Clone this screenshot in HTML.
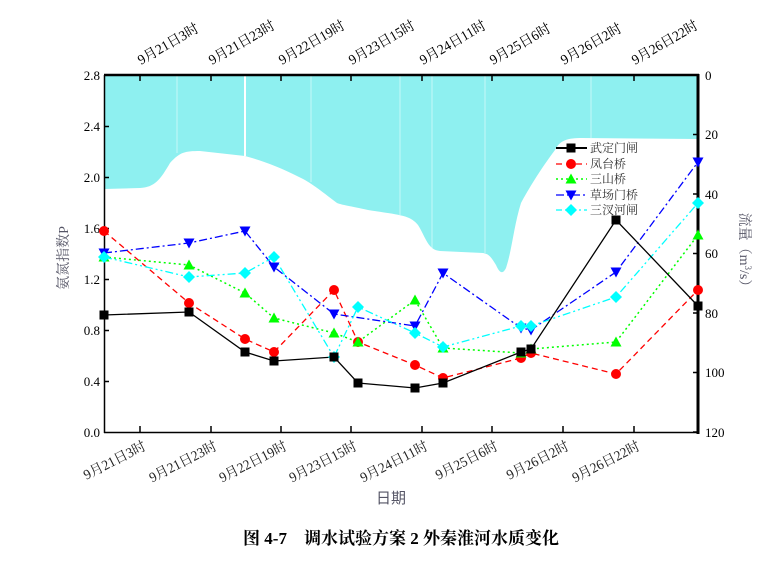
<!DOCTYPE html>
<html><head><meta charset="utf-8"><style>
body{margin:0;background:#fff;width:782px;height:565px;overflow:hidden}
svg{display:block}
text{font-family:"Liberation Serif","Noto Serif CJK SC","Noto Sans CJK SC",serif}
</style></head><body>
<svg width="782" height="565" viewBox="0 0 782 565">
<path d="M104,75 L698,75 L698,139 L582,138 C568,138 560,140 555,150 C540,170 528,190 521,203 C514,225 512,250 506,268 C503,274 500,274 496,265 C490,255 488,254 483,253 L440,251 C428,250 426,238 418,225 C410,215 400,215 368,210 C350,206 342,205 337,203 C320,190 310,182 299,177 C280,167 260,160 245,156 L200,151 C185,151 180,152 170,163 C160,180 155,187 140,188 L104,189 Z" fill="#8ef0f0"/>
<g stroke="#fff" stroke-width="1">
<line x1="245" y1="75" x2="245" y2="156" stroke-width="2"/>
<line x1="177" y1="75" x2="177" y2="153" stroke-opacity="0.5"/>
<line x1="311" y1="75" x2="311" y2="182" stroke-opacity="0.5"/>
<line x1="400" y1="75" x2="400" y2="215" stroke-opacity="0.5"/>
<line x1="432" y1="75" x2="432" y2="251" stroke-opacity="0.5"/>
<line x1="485" y1="75" x2="485" y2="253" stroke-opacity="0.5"/>
<line x1="591" y1="75" x2="591" y2="138" stroke-opacity="0.5"/>
</g>
<g stroke="#000" fill="none">
<line x1="104" y1="75" x2="699" y2="75" stroke-width="2.5"/>
<line x1="104.5" y1="75" x2="104.5" y2="433" stroke-width="1.5"/>
<line x1="104" y1="432.5" x2="699" y2="432.5" stroke-width="1.5"/>
<line x1="698" y1="74" x2="698" y2="434" stroke-width="3"/>
<g stroke-width="1.5">
<path d="M140,75v6M211,75v6M281,75v6M351,75v6M422,75v6M492,75v6M563,75v6M634,75v6"/>
<path d="M140,432v-6M211,432v-6M281,432v-6M351,432v-6M422,432v-6M492,432v-6M563,432v-6M634,432v-6"/>
<path d="M104,126.5h5M104,177.5h5M104,228.5h5M104,279.5h5M104,330.5h5M104,381.5h5"/>
<path d="M698,134.5h-5M698,194h-5M698,253.5h-5M698,313h-5M698,372.5h-5M698,432h-5"/>
</g></g>
<g font-size="13" text-anchor="end" fill="#000">
<text x="100" y="80">2.8</text><text x="100" y="131">2.4</text><text x="100" y="182">2.0</text><text x="100" y="233">1.6</text><text x="100" y="284">1.2</text><text x="100" y="335">0.8</text><text x="100" y="386">0.4</text><text x="100" y="437">0.0</text>
</g>
<g font-size="13" fill="#000">
<text x="705" y="80">0</text><text x="705" y="139">20</text><text x="705" y="199">40</text><text x="705" y="258">60</text><text x="705" y="318">80</text><text x="705" y="377">100</text><text x="705" y="437">120</text>
</g>
<g font-size="14" fill="#000">
<text transform="translate(141,65) rotate(-30)" textLength="68" lengthAdjust="spacingAndGlyphs">9月21日3时</text>
<text transform="translate(212,65) rotate(-30)" textLength="74" lengthAdjust="spacingAndGlyphs">9月21日23时</text>
<text transform="translate(282,65) rotate(-30)" textLength="74" lengthAdjust="spacingAndGlyphs">9月22日19时</text>
<text transform="translate(352,65) rotate(-30)" textLength="74" lengthAdjust="spacingAndGlyphs">9月23日15时</text>
<text transform="translate(423,65) rotate(-30)" textLength="74" lengthAdjust="spacingAndGlyphs">9月24日11时</text>
<text transform="translate(493,65) rotate(-30)" textLength="68" lengthAdjust="spacingAndGlyphs">9月25日6时</text>
<text transform="translate(564,65) rotate(-30)" textLength="68" lengthAdjust="spacingAndGlyphs">9月26日2时</text>
<text transform="translate(635,65) rotate(-30)" textLength="74" lengthAdjust="spacingAndGlyphs">9月26日22时</text>
</g>
<g font-size="14" fill="#222" text-anchor="end">
<text transform="translate(147,449) rotate(-27)" textLength="68" lengthAdjust="spacingAndGlyphs">9月21日3时</text>
<text transform="translate(218,449) rotate(-27)" textLength="74" lengthAdjust="spacingAndGlyphs">9月21日23时</text>
<text transform="translate(288,449) rotate(-27)" textLength="74" lengthAdjust="spacingAndGlyphs">9月22日19时</text>
<text transform="translate(358,449) rotate(-27)" textLength="74" lengthAdjust="spacingAndGlyphs">9月23日15时</text>
<text transform="translate(429,449) rotate(-27)" textLength="74" lengthAdjust="spacingAndGlyphs">9月24日11时</text>
<text transform="translate(499,449) rotate(-27)" textLength="68" lengthAdjust="spacingAndGlyphs">9月25日6时</text>
<text transform="translate(570,449) rotate(-27)" textLength="68" lengthAdjust="spacingAndGlyphs">9月26日2时</text>
<text transform="translate(641,449) rotate(-27)" textLength="74" lengthAdjust="spacingAndGlyphs">9月26日22时</text>
</g>
<text x="391" y="503" font-size="15" fill="#556" text-anchor="middle" style="font-family:'Noto Sans CJK SC',sans-serif">日期</text>
<text transform="translate(68,258) rotate(-90)" font-size="14" fill="#556" text-anchor="middle">氨氮指数P</text>
<text transform="translate(740,253) rotate(90)" font-size="14" fill="#556" text-anchor="middle">流量（m<tspan font-size="9" dy="-5">3</tspan><tspan dy="5">/s）</tspan></text>
<text x="401" y="544" font-size="17" font-weight="bold" text-anchor="middle" fill="#000">图 4-7　调水试验方案 2 外秦淮河水质变化</text>

<defs>
<rect id="sq" x="-4.5" y="-4.5" width="9" height="9" fill="#000"/>
<circle id="ci" r="5" fill="#f00"/>
<path id="tu" d="M0,-5.5L5.5,4.5L-5.5,4.5Z" fill="#0f0"/>
<path id="td" d="M0,5.5L5.5,-4.5L-5.5,-4.5Z" fill="#00f"/>
<path id="di" d="M0,-6L6,0L0,6L-6,0Z" fill="#0ff"/>
</defs>
<polyline fill="none" stroke="#f00" stroke-width="1.3" stroke-dasharray="6,4" points="104,231 189,303 245,339 274,352 334,290 358,342 415,365 443,378 521,358 531,353 616,374 698,290"/>
<polyline fill="none" stroke="#0f0" stroke-width="1.5" stroke-dasharray="2,3" points="104,257 189,265 245,293 274,318 334,333 358,342 415,300 443,348 521,353 531,349 616,342 698,235"/>
<polyline fill="none" stroke="#00f" stroke-width="1.3" stroke-dasharray="8,3,2,3" points="104,253 189,243 245,231 274,267 334,314 415,326 443,273 521,328 531,330 616,272 698,162"/>
<polyline fill="none" stroke="#0ff" stroke-width="1.3" stroke-dasharray="8,3,2,3,2,3" points="104,257 189,277 245,273 274,257 334,357 358,307 415,333 443,347 521,326 531,326 616,297 698,203"/>
<polyline fill="none" stroke="#000" stroke-width="1.3" points="104,315 189,312 245,352 274,361 334,357 358,383 415,388 443,383 521,352 531,349 616,220 698,306"/>
<g>
<use href="#ci" x="104" y="231"/><use href="#ci" x="189" y="303"/><use href="#ci" x="245" y="339"/><use href="#ci" x="274" y="352"/><use href="#ci" x="334" y="290"/><use href="#ci" x="358" y="342"/><use href="#ci" x="415" y="365"/><use href="#ci" x="443" y="378"/><use href="#ci" x="521" y="358"/><use href="#ci" x="531" y="353"/><use href="#ci" x="616" y="374"/><use href="#ci" x="698" y="290"/>
<use href="#tu" x="104" y="257"/><use href="#tu" x="189" y="265"/><use href="#tu" x="245" y="293"/><use href="#tu" x="274" y="318"/><use href="#tu" x="334" y="333"/><use href="#tu" x="358" y="342"/><use href="#tu" x="415" y="300"/><use href="#tu" x="443" y="348"/><use href="#tu" x="521" y="353"/><use href="#tu" x="531" y="349"/><use href="#tu" x="616" y="342"/><use href="#tu" x="698" y="235"/>
<use href="#td" x="104" y="253"/><use href="#td" x="189" y="243"/><use href="#td" x="245" y="231"/><use href="#td" x="274" y="267"/><use href="#td" x="334" y="314"/><use href="#td" x="415" y="326"/><use href="#td" x="443" y="273"/><use href="#td" x="521" y="328"/><use href="#td" x="531" y="330"/><use href="#td" x="616" y="272"/><use href="#td" x="698" y="162"/>
<use href="#di" x="104" y="257"/><use href="#di" x="189" y="277"/><use href="#di" x="245" y="273"/><use href="#di" x="274" y="257"/><use href="#di" x="334" y="357"/><use href="#di" x="358" y="307"/><use href="#di" x="415" y="333"/><use href="#di" x="443" y="347"/><use href="#di" x="521" y="326"/><use href="#di" x="531" y="326"/><use href="#di" x="616" y="297"/><use href="#di" x="698" y="203"/>
<use href="#sq" x="104" y="315"/><use href="#sq" x="189" y="312"/><use href="#sq" x="245" y="352"/><use href="#sq" x="274" y="361"/><use href="#sq" x="334" y="357"/><use href="#sq" x="358" y="383"/><use href="#sq" x="415" y="388"/><use href="#sq" x="443" y="383"/><use href="#sq" x="521" y="352"/><use href="#sq" x="531" y="349"/><use href="#sq" x="616" y="220"/><use href="#sq" x="698" y="306"/>
</g>
<g font-size="12" fill="#333" style="font-family:'Noto Sans CJK SC',sans-serif">
<line x1="556" y1="148" x2="587" y2="148" stroke="#000" stroke-width="2"/><use href="#sq" x="571" y="148"/><text x="590" y="152">武定门闸</text>
<line x1="556" y1="164" x2="587" y2="164" stroke="#f00" stroke-width="1.3" stroke-dasharray="6,4"/><use href="#ci" x="571" y="164"/><text x="590" y="168">凤台桥</text>
<line x1="556" y1="179" x2="587" y2="179" stroke="#0f0" stroke-width="1.5" stroke-dasharray="2,3"/><use href="#tu" x="571" y="179"/><text x="590" y="183">三山桥</text>
<line x1="556" y1="195" x2="587" y2="195" stroke="#00f" stroke-width="1.3" stroke-dasharray="8,3,2,3"/><use href="#td" x="571" y="195"/><text x="590" y="199">草场门桥</text>
<line x1="556" y1="210" x2="587" y2="210" stroke="#0ff" stroke-width="1.3" stroke-dasharray="6,3,2,3"/><use href="#di" x="571" y="210"/><text x="590" y="214">三汊河闸</text>
</g>
</svg>
</body></html>
